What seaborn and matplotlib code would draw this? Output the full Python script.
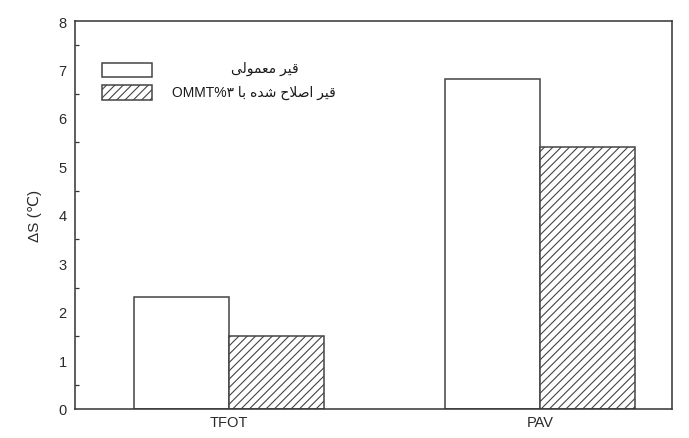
import re
import matplotlib
matplotlib.use("Agg")
import matplotlib.pyplot as plt
import matplotlib.patches as mpatches
from matplotlib.ticker import MultipleLocator
import pandas as pd
import seaborn as sns

# ---- data ----
tests = ["TFOT", "PAV"]
series_names = ["قیر معمولی", "قیر اصلاح شده با ۳%OMMT"]
base_values = [2.3, 6.8]        # قیر معمولی
modified_values = [1.5, 5.4]    # قیر اصلاح شده
y_ticks = [0, 1, 2, 3, 4, 5, 6, 7, 8]
y_label = "ΔS (℃)"

# ---- minimal Persian shaping (matplotlib has no text shaping / bidi) ----
FORMS = {
    'ا': ('\uFE8D', '\uFE8E', None, None),
    'ب': ('\uFE8F', '\uFE90', '\uFE91', '\uFE92'),
    'ح': ('\uFEA1', '\uFEA2', '\uFEA3', '\uFEA4'),
    'د': ('\uFEA9', '\uFEAA', None, None),
    'ر': ('\uFEAD', '\uFEAE', None, None),
    'ش': ('\uFEB5', '\uFEB6', '\uFEB7', '\uFEB8'),
    'ص': ('\uFEB9', '\uFEBA', '\uFEBB', '\uFEBC'),
    'ع': ('\uFEC9', '\uFECA', '\uFECB', '\uFECC'),
    'ق': ('\uFED5', '\uFED6', '\uFED7', '\uFED8'),
    'ل': ('\uFEDD', '\uFEDE', '\uFEDF', '\uFEE0'),
    'م': ('\uFEE1', '\uFEE2', '\uFEE3', '\uFEE4'),
    'ه': ('\uFEE9', '\uFEEA', '\uFEEB', '\uFEEC'),
    'و': ('\uFEED', '\uFEEE', None, None),
    'ی': ('\uFEEF', '\uFEF0', '\uFEF3', '\uFEF4'),
}


def _dual(c):
    return c in FORMS and FORMS[c][2] is not None


def shape(text):
    chars = list(text)
    out = []
    i, n = 0, len(chars)
    while i < n:
        c = chars[i]
        if c not in FORMS:
            out.append(c)
            i += 1
            continue
        join_prev = i > 0 and _dual(chars[i - 1])
        if c == 'ل' and i + 1 < n and chars[i + 1] == 'ا':
            out.append('\uFEFC' if join_prev else '\uFEFB')
            i += 2
            continue
        join_next = _dual(c) and i + 1 < n and chars[i + 1] in FORMS
        iso, fin, ini, med = FORMS[c]
        if join_prev and join_next:
            g = med
        elif join_prev:
            g = fin
        elif join_next:
            g = ini
        else:
            g = iso
        out.append(g)
        i += 1
    rev = ''.join(reversed(out))
    # Latin runs stay left-to-right
    return re.sub(r'[A-Za-z]+', lambda m: m.group(0)[::-1], rev)


# ---- style ----
sns.set_style("white")
plt.rcParams['font.family'] = ['Liberation Sans', 'DejaVu Sans']
plt.rcParams['hatch.linewidth'] = 0.8
plt.rcParams['hatch.color'] = '#3a3a3a'

df = pd.DataFrame({
    "test": tests * 2,
    "series": [series_names[0]] * len(tests) + [series_names[1]] * len(tests),
    "value": base_values + modified_values,
})

fig = plt.figure(figsize=(6.89, 4.39), dpi=100)
ax = fig.add_axes([75 / 689, 29 / 439, 597 / 689, 388 / 439])

edge = '#444444'
sns.barplot(data=df, x="test", y="value", hue="series", hue_order=series_names,
            order=tests, palette={series_names[0]: 'white', series_names[1]: 'white'},
            saturation=1, width=0.61, dodge=True, edgecolor=edge, linewidth=1.1,
            legend=False, errorbar=None, ax=ax)

for patch in ax.containers[1].patches:
    patch.set_hatch('////')

ax.set_xlim(-0.495, 1.425)
ax.set_ylim(0, 8)
ax.set_yticks(y_ticks)
ax.yaxis.set_minor_locator(MultipleLocator(0.5))
ax.tick_params(axis='y', which='major', direction='in', length=5, width=1,
               color='#333333', labelsize=10.5, labelcolor='#2a2a2a', pad=6)
ax.tick_params(axis='y', which='minor', direction='in', length=3, width=0.9,
               color='#333333', left=True)
ax.tick_params(axis='x', length=0, labelsize=10.5, labelcolor='#2a2a2a', pad=4)
ax.set_xlabel("")
ax.set_ylabel(y_label, fontsize=11, color='#2a2a2a', labelpad=12)

for side in ['left', 'right', 'top', 'bottom']:
    ax.spines[side].set_visible(True)
    ax.spines[side].set_color('#333333')
    ax.spines[side].set_linewidth(1.1)

# legend: boxes plus centred Persian labels
handles = [
    mpatches.Patch(facecolor='white', edgecolor=edge, linewidth=1.1),
    mpatches.Patch(facecolor='white', edgecolor=edge, linewidth=1.1, hatch='////'),
]
ax.legend(handles, ["", ""], loc='upper left', bbox_to_anchor=(0.045, 0.892),
          frameon=False, borderpad=0, borderaxespad=0, handlelength=3.6,
          handleheight=1.2, labelspacing=0.55, handletextpad=0, fontsize=10)

label_pos = [(0.318, 0.879), (0.300, 0.817)]
for name, (lx, ly) in zip(series_names, label_pos):
    ax.text(lx, ly, shape(name), transform=ax.transAxes, ha='center', va='center',
            fontsize=10, color='#1a1a1a', family=['Liberation Sans', 'DejaVu Sans'])

fig.savefig("out.png", dpi=100)
